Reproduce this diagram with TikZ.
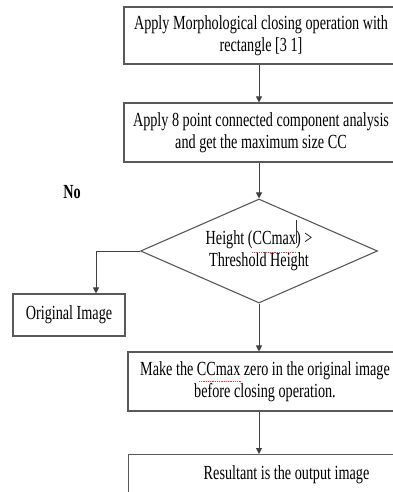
\documentclass[tikz,border=0pt]{standalone}
\usepackage{fontspec}
\setmainfont{Liberation Serif}[FakeStretch=0.71]
\usetikzlibrary{arrows.meta,shapes.geometric,calc}
\begin{document}
\begin{tikzpicture}[x=1pt,y=-1pt,
  txt/.style={text=black,font=\fontsize{20}{22}\selectfont},
  box/.style={txt,draw=black!65,line width=1.1pt,fill=white,inner sep=0pt,align=center},
  dec/.style={txt,draw=black!65,line width=1.1pt,diamond,aspect=2.3,inner sep=0pt,align=center},
  flow/.style={draw=black!75,line width=1pt,-{Triangle[length=6pt,width=6pt]}},
  spellmark/.style={red!80,densely dotted,line width=0.8pt},
]
\useasboundingbox (0,0) rectangle (393,492);
\clip (0,0) rectangle (393,492);
\node[box,minimum width=274pt,minimum height=57pt] (b1) at (261,35.5) {Apply Morphological closing operation with\\rectangle [3 1]};
\node[box,minimum width=274pt,minimum height=59pt] (b2) at (261,132.5) {Apply 8 point connected component analysis\\and get the maximum size CC};
\node[dec,minimum width=237pt,minimum height=104pt] (d) at (259,251) {Height (CCmax) >\\Threshold Height};
\node[box,minimum width=112pt,minimum height=42pt] (oi) at (69,315) {Original Image};
\node[box,minimum width=274pt,minimum height=59pt] (b3) at (265,381.5) {Make the CCmax zero in the original image\\before closing operation.};
\node[box,anchor=north west,minimum width=316pt,text height=25pt,text depth=35pt] (b4) at (128,454) {Resultant is the output image};
\node[txt,font=\fontsize{20}{22}\selectfont\bfseries] (no) at (72,192) {No};

\draw[flow] (b1.south -| d.north) -- (b2.north -| d.north);
\draw[flow] (b2.south -| d.north) -- (d.north);
\draw[flow] (d.west) -| ([xshift=27pt]oi.north);
\draw[flow] (d.south) -- (b3.north -| d.south);
\draw[flow] (b3.south -| d.south) -- (b4.north -| d.south);

\draw[black!80,line width=0.8pt] (296,220) -- (296,243);
\draw[spellmark] (252,252) -- (297,252);
\draw[spellmark] (199,381) -- (242,381);
\end{tikzpicture}
\end{document}
